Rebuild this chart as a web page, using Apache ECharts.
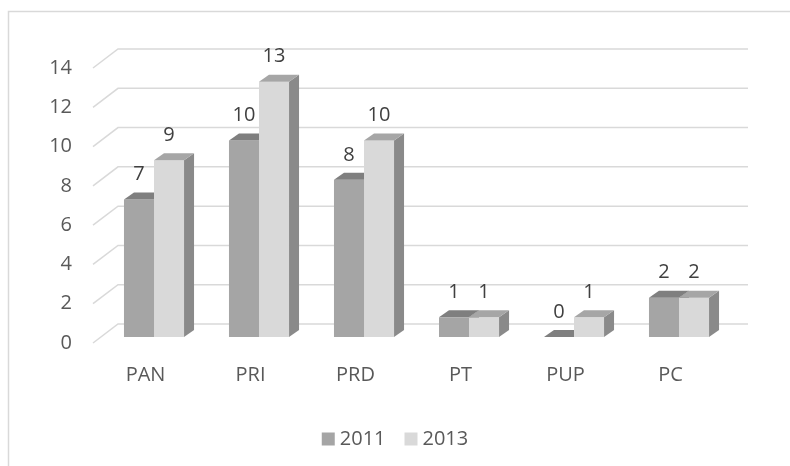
<!DOCTYPE html>
<html>
<head>
<meta charset="utf-8">
<script src="https://cdn.jsdelivr.net/npm/echarts@6/dist/echarts.min.js"></script>
<style>
  html, body { margin: 0; padding: 0; background: #fff; }
  #main { width: 790px; height: 466px; }
</style>
</head>
<body>
<div id="main"></div>
<script>
// data
var categories = ['PAN', 'PRI', 'PRD', 'PT', 'PUP', 'PC'];
var values2011 = [7, 10, 8, 1, 0, 2];
var values2013 = [9, 13, 10, 1, 1, 2];
var yTicks = [0, 2, 4, 6, 8, 10, 12, 14];

var FONT = '"Open Sans", sans-serif';
var FSIZE = 20;

// fake 3d: depth of the wall and of the bars
var WALL_DX = 25, WALL_DY = -19;
var BAR_DX = 10, BAR_DY = -7;
var BAR_SHIFT_Y = -6;

var chart = echarts.init(document.getElementById('main'), null, { renderer: 'canvas' });

function gridLine(params, api) {
  var cs = params.coordSys;
  var v = api.value(0);
  var y = api.coord([0, v])[1];
  var x0 = cs.x, x1 = cs.x + cs.width;
  return {
    type: 'polyline',
    shape: { points: [[x0, y], [x0 + WALL_DX, y + WALL_DY], [x1 + WALL_DX, y + WALL_DY]] },
    style: { stroke: '#d9d9d9', lineWidth: 1.5, fill: null },
    silent: true
  };
}

function makeBar(leftFrac, front, top, side) {
  return function (params, api) {
    var i = api.value(0), v = api.value(1);
    var bw = api.size([1, 0])[0];
    var c = api.coord([i, v]);
    var c0 = api.coord([i, 0]);
    var x0 = c[0] + leftFrac * bw;
    var x1 = x0 + bw * 0.286;
    var yt = c[1] + BAR_SHIFT_Y;
    var yb = c0[1] + BAR_SHIFT_Y;
    return {
      type: 'group',
      children: [
        { type: 'polygon', shape: { points: [[x1, yt], [x1 + BAR_DX, yt + BAR_DY], [x1 + BAR_DX, yb + BAR_DY], [x1, yb]] }, style: { fill: side } },
        { type: 'rect', shape: { x: x0, y: yt, width: x1 - x0, height: yb - yt }, style: { fill: front } },
        { type: 'polygon', shape: { points: [[x0, yt], [x1, yt], [x1 + BAR_DX, yt + BAR_DY], [x0 + BAR_DX, yt + BAR_DY]] }, style: { fill: top } },
        { type: 'text', style: { text: String(v), x: (x0 + x1) / 2, y: yt - 25, align: 'center', verticalAlign: 'middle', fill: '#404040', font: FSIZE + 'px ' + FONT } }
      ]
    };
  };
}

var option = {
  backgroundColor: '#ffffff',
  animation: false,
  textStyle: { fontFamily: FONT },
  graphic: [
    { type: 'polyline', shape: { points: [[8.5, 466], [8.5, 11.5], [790, 11.5]] }, style: { stroke: '#d9d9d9', lineWidth: 1.5, fill: null }, silent: true }
  ],
  grid: { left: 93, right: 67, top: 68, bottom: 123 },
  legend: {
    data: ['2011', '2013'],
    top: 424,
    left: 'center',
    icon: 'rect',
    itemWidth: 13,
    itemHeight: 13,
    itemGap: 19,
    textStyle: { color: '#595959', fontSize: FSIZE, fontFamily: FONT }
  },
  xAxis: {
    type: 'category',
    data: categories,
    axisLine: { show: false },
    axisTick: { show: false },
    axisLabel: { color: '#595959', fontSize: FSIZE, margin: 22, fontFamily: FONT }
  },
  yAxis: {
    type: 'value',
    min: 0,
    max: 14,
    interval: 2,
    axisLine: { show: false },
    axisTick: { show: false },
    splitLine: { show: false },
    axisLabel: { color: '#595959', fontSize: FSIZE, margin: 21, fontFamily: FONT }
  },
  series: [
    {
      name: 'walls',
      type: 'custom',
      renderItem: gridLine,
      data: yTicks.map(function (t) { return [t]; }),
      encode: { y: 0 },
      silent: true,
      z: 1
    },
    {
      name: '2011',
      type: 'custom',
      renderItem: makeBar(-0.205, '#a5a5a5', '#7f7f7f', '#7a7a7a'),
      itemStyle: { color: '#a5a5a5' },
      data: values2011.map(function (v, i) { return [i, v]; }),
      encode: { x: 0, y: 1 },
      z: 2
    },
    {
      name: '2013',
      type: 'custom',
      renderItem: makeBar(0.081, '#d9d9d9', '#a6a6a6', '#8a8a8a'),
      itemStyle: { color: '#d9d9d9' },
      data: values2013.map(function (v, i) { return [i, v]; }),
      encode: { x: 0, y: 1 },
      z: 3
    }
  ]
};

chart.setOption(option);
</script>
</body>
</html>
